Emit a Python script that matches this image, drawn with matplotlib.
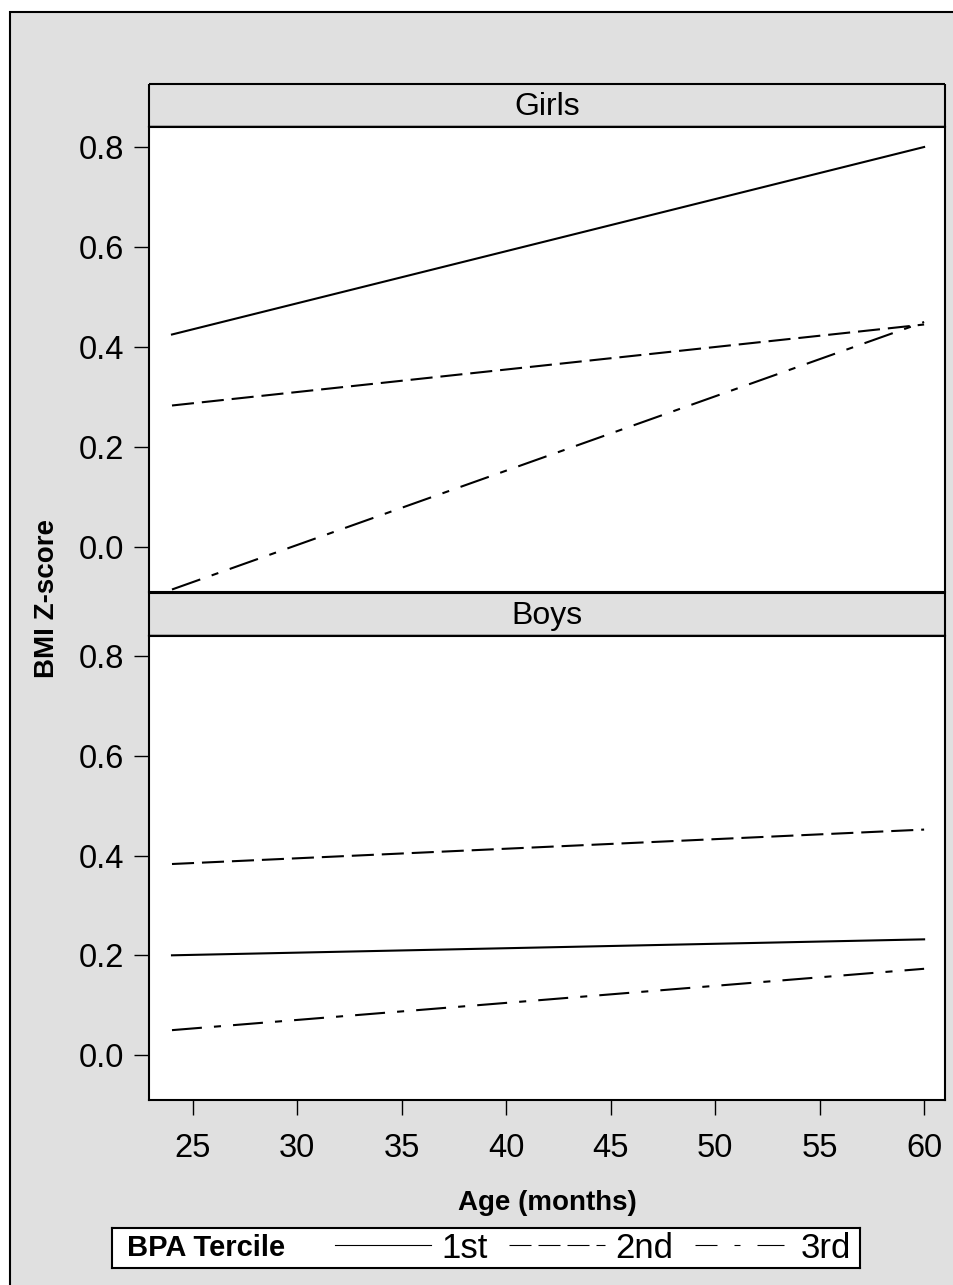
import matplotlib
matplotlib.use('Agg')
import matplotlib.pyplot as plt
from matplotlib.lines import Line2D
from matplotlib.patches import Rectangle

plt.rcParams['font.family'] = ['Liberation Sans', 'DejaVu Sans']

#Data
age = [24, 60]
girls_1st = [0.425, 0.800]
girls_2nd = [0.283, 0.445]
girls_3rd = [-0.085, 0.450]
boys_1st = [0.200, 0.232]
boys_2nd = [0.383, 0.452]
boys_3rd = [0.050, 0.173]
panels = ['Girls', 'Boys']
terciles = ['1st', '2nd', '3rd']
xticks = [25, 30, 35, 40, 45, 50, 55, 60]
yticks = [0.0, 0.2, 0.4, 0.6, 0.8]

W, H = 954, 1285
gray = '#E0E0E0'
lw = 1.5
styles = ['-', (0, (10.6, 3.8)), (0, (14.4, 5.8, 3.4, 5.8))]

fig = plt.figure(figsize=(W / 100, H / 100), dpi=100, facecolor='white')
fig.patches.append(Rectangle((10 / W, -0.01), 1.0, 1 - 12 / H + 0.01, transform=fig.transFigure,
                             facecolor=gray, edgecolor='black', linewidth=1.5, zorder=-5))

def frac(x0, y0, x1, y1):
    return [x0 / W, 1 - y1 / H, (x1 - x0) / W, (y1 - y0) / H]

plot_boxes = [frac(149, 127, 945, 592), frac(149, 636, 945, 1100)]
strip_boxes = [frac(149, 84, 945, 127), frac(149, 593, 945, 636)]
data = [[girls_1st, girls_2nd, girls_3rd], [boys_1st, boys_2nd, boys_3rd]]

for i, name in enumerate(panels):
    st = fig.add_axes(strip_boxes[i])
    st.set_facecolor(gray)
    st.set_xticks([])
    st.set_yticks([])
    for s in st.spines.values():
        s.set_linewidth(1.5)
        s.set_capstyle('butt')
    st.spines['bottom'].set_linewidth(2.5)
    st.text(0.5, 0.47, name, ha='center', va='center', fontsize=23, transform=st.transAxes)

    ax = fig.add_axes(plot_boxes[i])
    ax.set_facecolor('white')
    for vals, ls in zip(data[i], styles):
        ax.plot(age, vals, color='black', linewidth=lw, linestyle=ls)
    ax.set_xlim(22.9, 61.0)
    ax.set_ylim(-0.090, 0.840)
    ax.set_yticks(yticks)
    ax.set_yticklabels(['%.1f' % v for v in yticks])
    ax.set_xticks(xticks)
    for s in ax.spines.values():
        s.set_linewidth(1.5)
    ax.tick_params(axis='both', direction='out', length=10.5, width=1, labelsize=23.5)
    ax.tick_params(axis='y', pad=7.5)
    ax.tick_params(axis='x', pad=13)
    if i == 0:
        ax.tick_params(axis='x', bottom=False, labelbottom=False)

fig.text(47.5 / W, 1 - 598 / H, 'BMI Z-score', rotation=90, ha='center', va='center',
         fontsize=20, fontweight='bold')
fig.text(547 / W, 1 - 1203 / H, 'Age (months)', ha='center', va='center',
         fontsize=20, fontweight='bold')

#Legend box
lg = fig.add_axes(frac(112, 1228, 860, 1268))
lg.set_facecolor('white')
lg.set_xticks([])
lg.set_yticks([])
for s in lg.spines.values():
    s.set_linewidth(1.5)
lg.text(15 / 748, 0.5, 'BPA Tercile', ha='left', va='center', fontsize=21,
        fontweight='bold', transform=lg.transAxes)
hlw = 0.8
hstyles = ['-', (0, (19.8, 6.3)), (4.5, (24.3, 15.3, 5.4, 15.3))]
handles = [Line2D([], [], color='black', linewidth=hlw, linestyle=ls) for ls in hstyles]
lg.legend(handles, terciles, loc='center right', bbox_to_anchor=(1.0, 0.5), ncol=3,
          frameon=False, fontsize=25, handlelength=2.76, handletextpad=0.3,
          columnspacing=0.62, borderaxespad=0.0, borderpad=0.25)

plt.savefig('out.png', dpi=100, facecolor=fig.get_facecolor())
